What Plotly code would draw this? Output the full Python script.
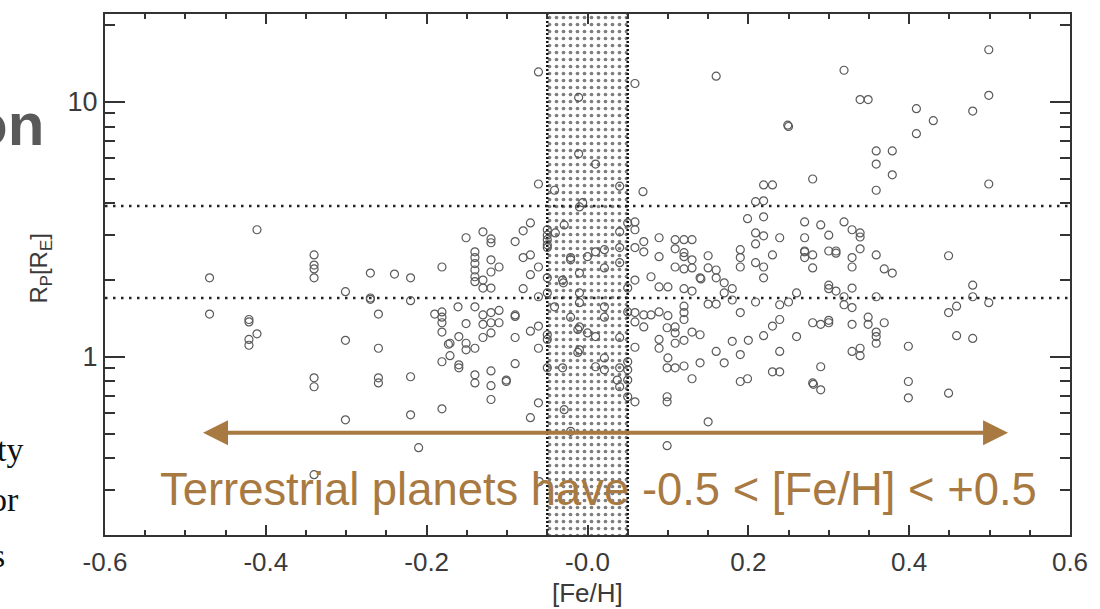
import numpy as np
import plotly.graph_objects as go

# ---------------- data ----------------
feh = [
    -0.47, -0.47, -0.411, -0.421, -0.421, -0.411, -0.421, -0.421,
    -0.34, -0.34, -0.34, -0.34, -0.34, -0.34, -0.34,
    -0.301, -0.301, -0.301, -0.27, -0.27, -0.27, -0.26, -0.26, -0.26, -0.26,
    -0.24, -0.22, -0.22, -0.22, -0.22, -0.21, -0.19,
    -0.181, -0.181, -0.181, -0.181, -0.181, -0.181, -0.181,
    -0.171, -0.173, -0.171, -0.161, -0.16, -0.16, -0.16, -0.151, -0.151, -0.151, -0.151,
    -0.14, -0.14, -0.14, -0.14, -0.14, -0.14, -0.14, -0.14, -0.14, -0.14,
    -0.13, -0.13, -0.13, -0.13, -0.13, -0.13,
    -0.12, -0.12, -0.12, -0.12, -0.12, -0.12, -0.12, -0.12, -0.12, -0.12, -0.12,
    -0.11, -0.11, -0.11, -0.101, -0.101,
    -0.09, -0.09, -0.09, -0.09, -0.09,
    -0.08, -0.08, -0.08,
    -0.071, -0.071, -0.071, -0.071, -0.071,
    -0.061, -0.061, -0.061, -0.061, -0.061, -0.061, -0.061, -0.06,
    -0.05, -0.05, -0.05, -0.05, -0.05, -0.05, -0.05, -0.05, -0.05, -0.05,
    -0.041, -0.041, -0.04, -0.031, -0.03, -0.031, -0.029, -0.029, -0.021, -0.021, -0.021, -0.021,
    -0.012, -0.012, -0.011, -0.011, -0.01, -0.01, -0.01, -0.01, -0.01, -0.01, -0.006, 0.0, 0.0,
    0.01, 0.01, 0.01, 0.01, 0.021, 0.021, 0.021, 0.021, 0.021, 0.021, 0.037,
    0.04, 0.04, 0.04, 0.04, 0.04, 0.04, 0.04,
    0.05, 0.05, 0.05, 0.05, 0.05, 0.05, 0.05,
    0.059, 0.059, 0.059, 0.059, 0.059, 0.059, 0.059, 0.059, 0.059,
    0.069, 0.07, 0.07, 0.07, 0.07, 0.079, 0.079,
    0.089, 0.089, 0.089, 0.089, 0.089, 0.089,
    0.099, 0.099, 0.099, 0.099, 0.099, 0.1, 0.1, 0.1,
    0.109, 0.109, 0.109, 0.109, 0.109, 0.109, 0.109,
    0.12, 0.12, 0.12, 0.12, 0.12, 0.12, 0.12, 0.12, 0.12, 0.12,
    0.13, 0.13, 0.13, 0.13, 0.13, 0.13,
    0.14, 0.141, 0.14, 0.14,
    0.15, 0.15, 0.15, 0.15,
    0.16, 0.16, 0.16, 0.16, 0.16,
    0.17, 0.17, 0.17, 0.18, 0.18, 0.18,
    0.19, 0.19, 0.19, 0.19, 0.19, 0.19,
    0.199, 0.2, 0.199,
    0.209, 0.209, 0.209, 0.209, 0.209,
    0.219, 0.219, 0.219, 0.219, 0.219, 0.219, 0.219,
    0.23, 0.23, 0.23, 0.23,
    0.239, 0.239, 0.239, 0.239, 0.239,
    0.249, 0.25, 0.25, 0.26, 0.26,
    0.27, 0.27, 0.27, 0.27, 0.27,
    0.28, 0.28, 0.28, 0.28, 0.28, 0.281,
    0.29, 0.29, 0.29, 0.29,
    0.3, 0.3, 0.3, 0.3, 0.3, 0.3,
    0.309, 0.309, 0.309,
    0.319, 0.319, 0.319, 0.319,
    0.329, 0.329, 0.329, 0.329, 0.329, 0.329, 0.329,
    0.339, 0.339, 0.339, 0.339, 0.339, 0.339,
    0.349, 0.349, 0.349,
    0.359, 0.359, 0.359, 0.359, 0.359, 0.359, 0.359, 0.359,
    0.369, 0.369, 0.379, 0.379, 0.379,
    0.399, 0.399, 0.399, 0.409, 0.409, 0.43,
    0.449, 0.449, 0.449, 0.459, 0.459,
    0.479, 0.479, 0.479, 0.479, 0.499, 0.499, 0.499, 0.499,
]

rp = [
    2.04, 1.47, 3.15, 1.40, 1.37, 1.23, 1.17, 1.11,
    2.51, 2.29, 2.21, 2.04, 0.827, 0.763, 0.345,
    1.80, 1.16, 0.566, 2.13, 1.70, 1.68, 1.47, 1.08, 0.827, 0.79,
    2.11, 2.04, 1.66, 0.835, 0.592, 0.44, 1.47,
    2.25, 1.50, 1.43, 1.36, 1.25, 0.956, 0.625,
    1.13, 1.12, 1.01, 1.57, 1.20, 0.93, 0.905, 2.93, 1.35, 1.13, 1.065,
    2.58, 2.45, 2.32, 2.19, 2.06, 1.97, 1.57, 1.08, 0.85, 0.79,
    3.09, 2.0, 1.86, 1.46, 1.34, 1.19,
    2.90, 2.80, 2.40, 2.15, 1.86, 1.49, 1.36, 1.24, 0.88, 0.77, 0.68,
    2.25, 1.52, 1.36, 0.81, 0.80,
    2.83, 1.46, 1.44, 1.19, 0.94,
    3.12, 2.45, 1.85,
    3.35, 2.51, 2.10, 1.26, 0.577,
    13.1, 4.76, 2.25, 1.72, 1.32, 1.08, 0.66, 0.324,
    3.15, 3.0, 2.88, 2.75, 2.68, 2.04, 1.78, 1.22, 1.17, 0.905,
    4.5, 1.57, 3.06, 2.0, 1.95, 0.905, 3.29, 0.62, 2.45, 2.4, 1.43, 0.51,
    1.28, 1.04, 10.4, 6.25, 3.87, 2.13, 1.78, 1.63, 1.31, 1.065, 4.02, 2.47, 1.24,
    5.7, 2.58, 1.20, 0.914, 2.63, 2.23, 1.57, 1.43, 0.99, 0.889, 0.81,
    4.67, 3.09, 2.68, 2.34, 1.19, 0.905, 0.763,
    3.35, 1.86, 1.50, 0.956, 0.889, 0.81, 0.697,
    11.8, 3.38, 3.15, 2.68, 2.0, 1.49, 1.37, 1.09, 0.666,
    4.44, 2.83, 2.58, 1.46, 1.31, 2.06, 1.46,
    2.93, 2.47, 1.88, 1.50, 1.17, 1.08,
    1.30, 0.905, 0.697, 0.666, 0.448, 1.88, 1.45, 0.99,
    2.88, 2.65, 2.25, 1.31, 1.24, 1.13, 0.905,
    2.88, 2.56, 2.47, 2.21, 1.85, 1.58, 1.49, 1.40, 1.16, 0.92,
    2.88, 2.40, 2.23, 1.81, 1.25, 0.82,
    2.04, 2.02, 1.22, 0.947,
    2.49, 2.23, 1.61, 0.556,
    12.6, 2.19, 2.04, 1.61, 1.05,
    1.95, 1.78, 0.947, 1.85, 1.67, 1.15,
    2.63, 2.45, 2.25, 1.49, 1.02, 0.80,
    3.48, 1.16, 0.82,
    4.06, 3.06, 2.77, 2.34, 1.64,
    4.72, 4.09, 3.54, 2.98, 2.25, 2.04, 1.21,
    4.72, 2.51, 1.32, 0.873,
    2.93, 1.60, 1.40, 1.05, 0.873,
    8.1, 8.0, 1.64, 1.78, 1.20,
    3.38, 2.93, 2.60, 2.58, 2.45,
    4.98, 2.51, 2.23, 1.36, 0.79, 0.78,
    3.29, 1.34, 0.914, 0.742,
    3.0, 2.60, 1.91, 1.85, 1.39, 1.36,
    2.60, 2.55, 1.81,
    13.3, 3.38, 1.72, 1.60,
    3.15, 2.45, 2.25, 1.86, 1.56, 1.34, 1.05,
    10.2, 3.06, 2.95, 2.65, 1.08, 1.01,
    10.2, 1.43, 1.34,
    6.42, 5.7, 4.5, 2.51, 1.72, 1.25, 1.20, 1.13,
    2.21, 1.36, 6.42, 5.17, 2.13,
    1.10, 0.80, 0.69, 9.4, 7.5, 8.43,
    2.49, 1.49, 0.72, 1.58, 1.21,
    9.2, 1.91, 1.72, 1.18, 16.0, 10.6, 4.76, 1.63,
]

x_range = [-0.6, 0.6]
y_range = [0.2, 22.1]
solar_band = [-0.05, 0.05]
radius_boundaries = [1.7, 3.9]
x_tick_values = [-0.6, -0.4, -0.2, 0.0, 0.2, 0.4, 0.6]
x_tick_labels = ["-0.6", "-0.4", "-0.2", "-0.0", "0.2", "0.4", "0.6"]
y_tick_values = [1, 10]
y_tick_labels = ["1", "10"]
y_minor_values = [0.2, 0.3, 0.4, 0.5, 0.6, 0.7, 0.8, 0.9,
                  2, 3, 4, 5, 6, 7, 8, 9, 20]
arrow_span = [-0.48, 0.523]
arrow_level = 0.503
label_pos = [0.0135, 0.303]
label_text = "Terrestrial planets have -0.5 < [Fe/H] < +0.5"
x_title = "[Fe/H]"
y_title = "R<sub>P</sub>[R<sub>E</sub>]"

BROWN = "#A87A42"
AXC = "#333333"
LBL = "#3a3a3a"
FONT = "Liberation Sans"

fig = go.Figure()

# hatched solar-metallicity band
fig.add_trace(go.Scatter(
    x=[solar_band[0], solar_band[1], solar_band[1], solar_band[0], solar_band[0]],
    y=[y_range[0], y_range[0], y_range[1], y_range[1], y_range[0]],
    mode="lines", fill="toself", line=dict(width=0, color="rgba(0,0,0,0)"),
    fillcolor="rgba(0,0,0,0)",
    fillpattern=dict(shape=".", fgcolor="#000000", bgcolor="white", size=7, solidity=0.22),
    hoverinfo="skip", showlegend=False))

for xb in solar_band:
    fig.add_trace(go.Scatter(
        x=[xb, xb], y=y_range, mode="lines",
        line=dict(color="#111111", width=2.5, dash="2px,2px"),
        hoverinfo="skip", showlegend=False))

for yb in radius_boundaries:
    fig.add_trace(go.Scatter(
        x=x_range, y=[yb, yb], mode="lines",
        line=dict(color="#222222", width=2.5, dash="2.5px,5.5px"),
        hoverinfo="skip", showlegend=False))

fig.add_trace(go.Scatter(
    x=feh, y=rp, mode="markers",
    marker=dict(symbol="circle-open", size=8, color="#5a5a5a", line=dict(width=1.2, color="#5a5a5a")),
    showlegend=False))

fig.update_layout(
    width=1100, height=609,
    margin=dict(l=105, r=26, t=14, b=74),
    paper_bgcolor="white", plot_bgcolor="white",
    font=dict(family=FONT, color=AXC, size=26),
    showlegend=False,
    xaxis=dict(
        range=x_range, tickvals=x_tick_values, ticktext=x_tick_labels,
        ticks="inside", ticklen=10, tickwidth=2, tickcolor=AXC,
        minor=dict(dtick=0.05, tick0=0, ticks="inside", ticklen=5, tickwidth=2, tickcolor=AXC),
        showline=True, linewidth=2, linecolor=AXC, mirror="ticks",
        showgrid=False, zeroline=False, ticklabelstandoff=3,
        tickfont=dict(size=26, color=LBL, family=FONT),
    ),
    yaxis=dict(
        type="log", range=[np.log10(y_range[0]), np.log10(y_range[1])],
        tickvals=y_tick_values, ticktext=y_tick_labels,
        ticks="inside", ticklen=20, tickwidth=2, tickcolor=AXC,
        minor=dict(tickvals=y_minor_values, ticks="inside", ticklen=10, tickwidth=2, tickcolor=AXC),
        showline=True, linewidth=2, linecolor=AXC, mirror="ticks",
        showgrid=False, zeroline=False,
        tickfont=dict(size=27, color=LBL, family=FONT),
    ),
)

# axis titles
fig.add_annotation(x=0.5, y=-0.111, xref="paper", yref="paper", text=x_title,
                   showarrow=False, xanchor="center", yanchor="middle",
                   font=dict(size=26, color=LBL, family=FONT))
fig.add_annotation(x=-0.067, y=0.512, xref="paper", yref="paper", text=y_title,
                   showarrow=False, textangle=-90, xanchor="center", yanchor="middle",
                   font=dict(size=24, color=LBL, family=FONT))

# double-headed arrow
fig.add_annotation(
    x=arrow_span[1], y=np.log10(arrow_level), ax=arrow_span[0], ay=np.log10(arrow_level),
    xref="x", yref="y", axref="x", ayref="y", text="",
    showarrow=True, arrowside="end+start", arrowhead=2, startarrowhead=2,
    arrowsize=1.25, startarrowsize=1.25, arrowwidth=4, arrowcolor=BROWN,
    standoff=0, startstandoff=0)

fig.add_annotation(
    x=label_pos[0], y=np.log10(label_pos[1]), xref="x", yref="y",
    text=label_text, showarrow=False, xanchor="center", yanchor="middle",
    font=dict(size=45.4, color=BROWN, family=FONT))

# cropped slide text fragments at the left edge
fig.add_annotation(
    x=-0.061, y=0.787, xref="paper", yref="paper", text="<b>on</b>",
    showarrow=False, xanchor="right", yanchor="middle",
    font=dict(size=60, color="#595959", family=FONT))
for txt, xp, yp in [("ty", -0.083, 0.165), ("or", -0.087, 0.068), ("s", -0.102, -0.040)]:
    fig.add_annotation(
        x=xp, y=yp, xref="paper", yref="paper", text=txt,
        showarrow=False, xanchor="right", yanchor="middle",
        font=dict(size=34, color="#111111", family="Liberation Serif"))

fig.write_html("out.html", config={"displayModeBar": False},
               post_script="document.body.style.margin='0px';")
